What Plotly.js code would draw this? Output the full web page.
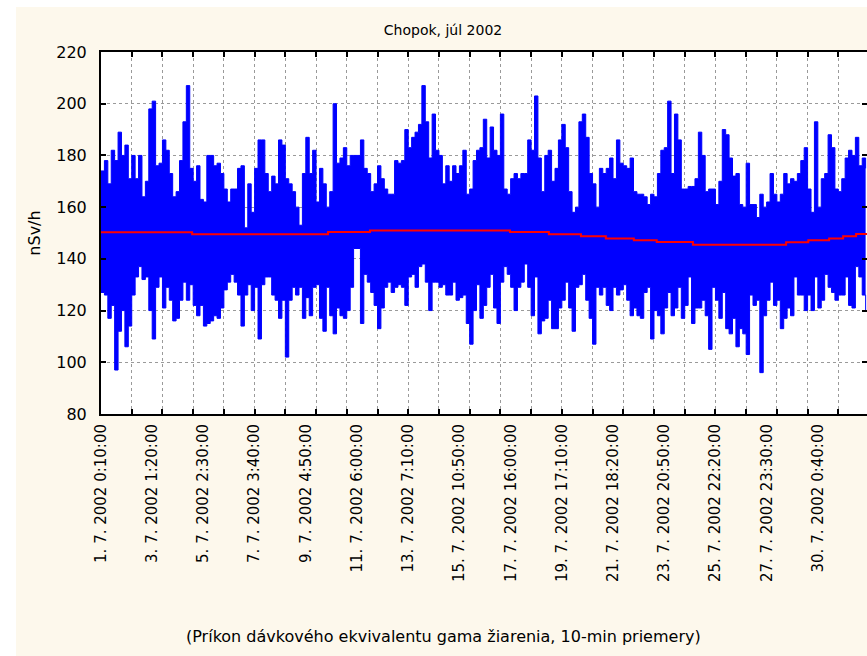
<!DOCTYPE html>
<html><head><meta charset="utf-8">
<script src="https://cdn.plot.ly/plotly-3.0.1.min.js"></script>
<style>html,body{margin:0;padding:0;background:#fff}</style>
</head><body><div id="chart" style="width:867px;height:656px"></div>
<script>
const chartTitle = 'Chopok, júl 2002';
const yTitle = 'nSv/h';
const caption = '(Príkon dávkového ekvivalentu gama žiarenia, 10-min priemery)';

const tickLabels = [
  '1. 7. 2002 0:10:00', '3. 7. 2002 1:20:00', '5. 7. 2002 2:30:00', '7. 7. 2002 3:40:00',
  '9. 7. 2002 4:50:00', '11. 7. 2002 6:00:00', '13. 7. 2002 7:10:00', '15. 7. 2002 10:50:00',
  '17. 7. 2002 16:00:00', '19. 7. 2002 17:10:00', '21. 7. 2002 18:20:00', '23. 7. 2002 20:50:00',
  '25. 7. 2002 22:20:00', '27. 7. 2002 23:30:00', '30. 7. 2002 0:40:00'
];
const pointsPerLabel = 300;   // 10-min records between labelled ticks
const pointsPerTick = 180;    // records between tick marks / grid lines
const pointsPerBlock = 20;    // records summarised by one max/min pair
const totalPoints = 4488;

// maximum of the 10-min values in each block (nSv/h)
const blockMax = [
  174,178,169,182,178,189,180,184,171,180,
  171,180,164,170,198,201,176,177,186,182,
  173,164,166,178,193,207,175,170,176,163,
  162,180,180,176,177,173,167,162,167,167,
  175,176,152,169,158,175,186,186,173,166,
  172,169,186,184,171,169,166,160,153,173,
  187,173,182,162,175,169,160,166,200,177,
  179,183,176,180,180,180,186,175,173,166,
  169,176,171,167,165,165,178,177,178,190,
  183,187,189,192,207,193,179,196,182,180,
  169,176,170,176,173,176,182,165,167,178,
  182,183,194,179,191,182,180,196,167,165,
  171,173,171,173,173,186,182,203,179,166,
  180,182,170,175,186,192,183,166,158,160,
  193,196,187,173,169,160,175,173,175,179,
  171,186,177,176,175,179,166,165,165,164,
  161,165,164,173,182,183,201,173,196,186,
  167,167,168,168,171,189,180,166,167,167,
  161,170,190,188,179,172,173,161,160,177,
  161,161,156,165,160,162,173,165,162,165,
  173,169,171,170,173,178,183,167,158,193,
  160,171,173,188,183,167,166,171,179,182,
  180,187,176,179,175
];
// minimum of the 10-min values in each block (nSv/h)
const blockMin = [
  127,126,117,122,97,112,120,106,114,126,
  133,137,132,133,120,109,129,133,121,129,
  124,116,117,124,131,124,130,122,118,122,
  114,115,116,118,117,121,128,131,134,131,
  126,114,126,130,120,129,109,130,133,133,
  126,124,117,124,102,124,129,126,129,117,
  125,118,129,130,117,112,129,118,111,121,
  118,117,120,129,144,144,115,134,131,127,
  122,113,121,129,131,127,129,130,129,122,
  133,134,129,137,138,131,120,131,131,129,
  130,126,126,131,124,125,126,115,107,120,
  130,117,122,129,134,121,115,131,137,134,
  129,120,129,131,138,129,118,133,111,116,
  117,124,113,113,121,124,131,121,112,129,
  130,134,124,117,107,129,126,129,122,120,
  129,126,128,130,124,118,121,118,117,127,
  129,109,120,118,111,121,127,118,121,129,
  117,122,133,115,121,121,124,118,105,129,
  124,117,127,113,111,117,106,113,111,103,
  126,122,124,96,118,124,131,122,124,113,
  117,121,118,133,126,126,120,126,120,133,
  121,124,134,129,127,124,126,126,133,122,
  121,137,133,126,120
];
// running mean (red step line): record index where each level starts, and its value
const meanStart = [0, 534, 1330, 1576, 2396, 2624, 2812, 2958, 3122, 3256, 3468, 4014, 4144, 4266, 4348, 4424, 4488];
const meanValue = [150.3, 149.5, 150.4, 151.0, 150.4, 149.5, 148.7, 147.9, 147.2, 146.5, 145.5, 146.4, 147.2, 147.9, 148.7, 149.6, 149.6];

const blockX = blockMax.map((_, i) => i * pointsPerBlock);
const tickVals = tickLabels.map((_, k) => k * pointsPerLabel);

const font = 'DejaVu Sans, Verdana, sans-serif';
const cream = '#FDF8EC';

const traces = [
  {x: blockX, y: blockMin, type: 'scatter', mode: 'lines',
   line: {color: '#0000FF', width: 1, shape: 'hv'}, hoverinfo: 'skip', showlegend: false},
  {x: blockX, y: blockMax, type: 'scatter', mode: 'lines', fill: 'tonexty', fillcolor: '#0000FF',
   line: {color: '#0000FF', width: 1, shape: 'hv'}, showlegend: false},
  {x: meanStart, y: meanValue, type: 'scatter', mode: 'lines', xaxis: 'x2', yaxis: 'y',
   line: {color: '#FF0000', width: 2, shape: 'hv'}, showlegend: false}
];

const layout = {
  width: 867, height: 656,
  margin: {l: 101, r: 0, t: 52, b: 242, pad: 0},
  paper_bgcolor: cream, plot_bgcolor: '#FFFFFF',
  showlegend: false,
  title: {text: chartTitle, font: {family: font, size: 14, color: '#000'},
          xref: 'container', x: 443 / 867, xanchor: 'center',
          yref: 'container', y: 1 - 30 / 656, yanchor: 'middle'},
  xaxis: {range: [0, totalPoints], tickmode: 'array', tickvals: tickVals, ticktext: tickLabels,
          tickangle: -90, ticks: '', showgrid: false, zeroline: false,
          showline: true, linecolor: '#000', linewidth: 2, mirror: true,
          tickfont: {family: font, size: 15, color: '#000'}, ticklabelstandoff: 2, automargin: false},
  xaxis2: {overlaying: 'x', anchor: 'y', side: 'bottom', range: [0, totalPoints],
           tickmode: 'linear', tick0: 0, dtick: pointsPerTick,
           ticks: 'inside', ticklen: 5, tickwidth: 2, tickcolor: '#000', mirror: 'ticks',
           showticklabels: false, showline: false, zeroline: false,
           showgrid: true, gridcolor: '#9a9a9a', griddash: 'dot', gridwidth: 1},
  yaxis: {range: [80, 220], tickmode: 'linear', tick0: 80, dtick: 20,
          ticks: 'inside', ticklen: 5, tickwidth: 2, tickcolor: '#000', mirror: 'ticks',
          showline: true, linecolor: '#000', linewidth: 2, zeroline: false,
          showgrid: true, gridcolor: '#9a9a9a', griddash: 'dot', gridwidth: 1,
          tickfont: {family: font, size: 16, color: '#000'}, ticklabelstandoff: 9,
          title: {text: yTitle, font: {family: font, size: 16, color: '#000'}, standoff: 12},
          automargin: false},
  shapes: [
    {type: 'rect', xref: 'paper', yref: 'paper', x0: -0.14, x1: (16 - 101) / 766, y0: -0.7, y1: 1.2,
     fillcolor: '#FFFFFF', line: {width: 0}, layer: 'below'},
    {type: 'rect', xref: 'paper', yref: 'paper', x0: -0.14, x1: 1.01, y0: (414 - 7) / 362, y1: 1.2,
     fillcolor: '#FFFFFF', line: {width: 0}, layer: 'below'}
  ],
  annotations: [
    {text: caption, xref: 'paper', yref: 'paper', x: (443 - 101) / 766, y: (414 - 636) / 362,
     xanchor: 'center', yanchor: 'middle', showarrow: false,
     font: {family: font, size: 16, color: '#000'}}
  ]
};

Plotly.newPlot('chart', traces, layout, {staticPlot: true, displayModeBar: false});
</script>
</body></html>
